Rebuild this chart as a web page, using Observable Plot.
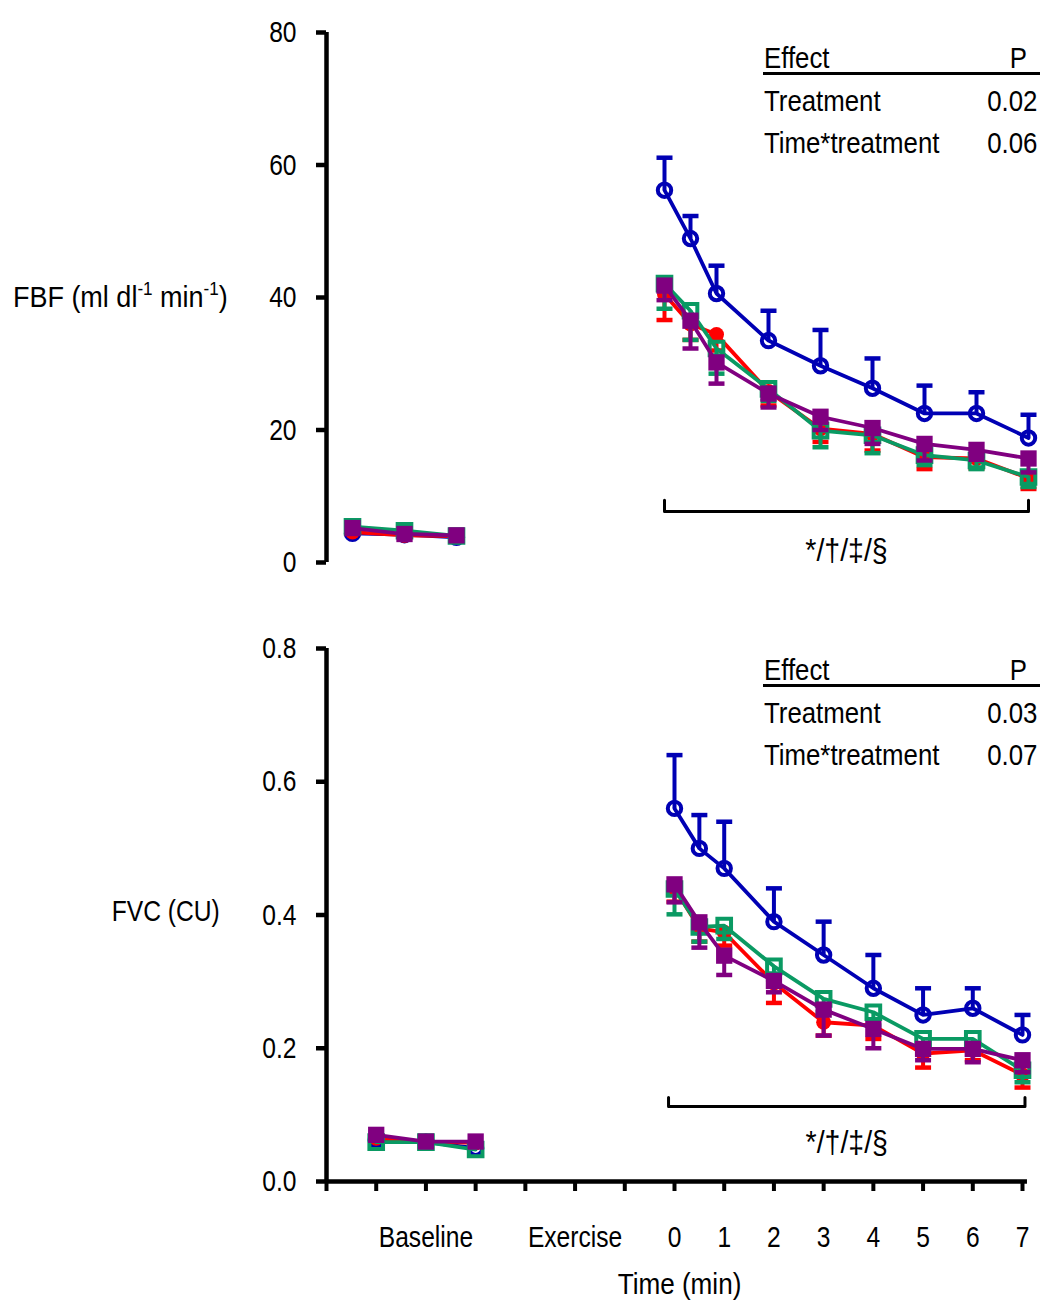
<!DOCTYPE html>
<html><head><meta charset="utf-8">
<script src="https://cdn.jsdelivr.net/npm/d3@7"></script>
<script src="https://cdn.jsdelivr.net/npm/@observablehq/plot@0.6"></script>
<style>
body{margin:0;background:#fff;}
#wrap{position:relative;width:1043px;height:1301px;font-family:"Liberation Sans",Arial,sans-serif;color:#000;overflow:hidden;}
.panel{position:absolute;left:0;}
.lab{position:absolute;font-size:30px;line-height:30px;white-space:nowrap;transform:scaleX(0.86);}
.lab.l{transform-origin:left center;}
.lab.r{transform-origin:right center;}
.lab.wide{transform:scaleX(0.9);}
.lab.narrow{transform:scaleX(0.82);}
.lab sup{font-size:19px;vertical-align:0;position:relative;top:-12px;}
.uline{position:absolute;height:2.5px;background:#000;}
</style></head><body>
<div id="wrap">
  <div id="top" class="panel" style="top:0"></div>
  <div id="bot" class="panel" style="top:600px"></div>
  <div id="labels"></div>
</div>
<script>
// ---------- categories / ticks ----------
const xTickLabels = ["", "", "Baseline", "", "", "Exercise", "", "0", "1", "2", "3", "4", "5", "6", "7"];
const baselineSlots = [1, 2, 3];
const timeMin = [0, 0.5, 1, 2, 3, 4, 5, 6, 7];
const timeSlot0 = 7;
const fbfTicks = [0, 20, 40, 60, 80];
const fvcTicks = [0, 0.2, 0.4, 0.6, 0.8];
const effectNames = ["Treatment", "Time*treatment"];
const fbfP = ["0.02", "0.06"];
const fvcP = ["0.03", "0.07"];
const bracketLabel = "*/\u2020/\u2021/\u00a7";
const xTitle = "Time (min)";

// ---------- FBF (ml dl-1 min-1) ----------
const fbfBaseBlue = [4.4, 4.2, 3.8];
const fbfBaseRed = [4.6, 4.1, 4.0];
const fbfBaseGreen = [5.4, 4.8, 4.0];
const fbfBasePurple = [5.2, 4.3, 4.1];
const fbfBlue = [56.2, 48.9, 40.6, 33.5, 29.7, 26.3, 22.5, 22.5, 18.8];
const fbfBlueSE = [4.9, 3.4, 4.2, 4.5, 5.4, 4.5, 4.2, 3.2, 3.5];
const fbfRed = [40.5, 36.0, 34.4, 25.8, 20.2, 19.4, 15.9, 15.7, 12.7];
const fbfRedSE = [3.9, 2.4, 2.4, 2.1, 2.0, 2.5, 1.8, 1.5, 1.6];
const fbfGreen = [42.1, 38.0, 32.3, 26.2, 19.9, 19.2, 16.2, 15.4, 12.9];
const fbfGreenSE = [3.8, 4.4, 3.8, 1.8, 2.5, 2.7, 1.5, 1.3, 1.5];
const fbfPurple = [41.8, 36.5, 30.2, 25.5, 22.0, 20.3, 17.9, 17.0, 15.7];
const fbfPurpleSE = [2.2, 4.2, 3.2, 2.1, 2.0, 2.4, 2.5, 1.5, 2.1];

// ---------- FVC (CU) ----------
const fvcBaseBlue = [0.062, 0.059, 0.050];
const fvcBaseRed = [0.065, 0.060, 0.058];
const fvcBaseGreen = [0.059, 0.059, 0.048];
const fvcBasePurple = [0.070, 0.060, 0.060];
const fvcBlue = [0.56, 0.50, 0.47, 0.39, 0.34, 0.29, 0.25, 0.26, 0.22];
const fvcBlueSE = [0.08, 0.05, 0.07, 0.05, 0.05, 0.05, 0.04, 0.03, 0.03];
const fvcRed = [0.44, 0.38, 0.374, 0.298, 0.239, 0.234, 0.192, 0.197, 0.160];
const fvcRedSE = [0.02, 0.02, 0.02, 0.03, 0.02, 0.02, 0.021, 0.015, 0.019];
const fvcGreen = [0.439, 0.382, 0.384, 0.323, 0.274, 0.254, 0.214, 0.214, 0.167];
const fvcGreenSE = [0.038, 0.022, 0.02, 0.02, 0.02, 0.02, 0.015, 0.015, 0.018];
const fvcPurple = [0.446, 0.389, 0.339, 0.301, 0.258, 0.229, 0.199, 0.199, 0.182];
const fvcPurpleSE = [0.027, 0.038, 0.029, 0.017, 0.039, 0.029, 0.017, 0.02, 0.018];

// brackets (time range, y of bar, y of tips, y of label)
const fbfBracket = {from: 0, to: 7, bar: 7.7, tip: 9.4, label: 1.8};
const fvcBracket = {from: -0.12, to: 7.05, bar: 0.1126, tip: 0.126, label: 0.057};

// ---------- styles ----------
const FONT = "'Liberation Sans',Arial,sans-serif";
const NARROW = 0.82;
const S = {
  blue:   {color: "#0000B4", symbol: "circle", r: 6.7, filled: false, dir: 1},
  red:    {color: "#FF0000", symbol: "circle", r: 7.5, filled: true, dir: -1},
  green:  {color: "#0A9A63", symbol: "square", r: 7.7, filled: false, dir: -1},
  purple: {color: "#800080", symbol: "square", r: 9.2, filled: true, dir: -1}
};
const hline = {draw(ctx, size) { const w = Math.sqrt(size / Math.PI); ctx.moveTo(-w, 0); ctx.lineTo(w, 0); }};

function build(base, post, se) {
  return [
    ...base.map((v, i) => ({pos: baselineSlots[i], mean: v, se: 0, phase: "base"})),
    ...post.map((v, i) => ({pos: timeSlot0 + timeMin[i], mean: v, se: se[i], phase: "post"}))
  ];
}
function seriesMarks(rows, st) {
  const err = rows.filter(d => d.se > 0);
  const tip = d => d.mean + st.dir * d.se;
  return [
    Plot.ruleX(err, {x: "pos", y1: "mean", y2: tip, stroke: st.color, strokeWidth: 4}),
    Plot.dot(err, {x: "pos", y: tip, symbol: hline, r: 8, stroke: st.color, strokeWidth: 4.5, fill: "none"}),
    Plot.line(rows, {x: "pos", y: "mean", z: "phase", stroke: st.color, strokeWidth: 3.8}),
    Plot.dot(rows, {x: "pos", y: "mean", symbol: st.symbol, r: st.r,
      fill: st.filled ? st.color : "none", stroke: st.filled ? "none" : st.color, strokeWidth: 4})
  ];
}
function bracketMarks(b) {
  const pts = [
    {x: timeSlot0 + b.from, y: b.tip}, {x: timeSlot0 + b.from, y: b.bar},
    {x: timeSlot0 + b.to, y: b.bar}, {x: timeSlot0 + b.to, y: b.tip}
  ];
  return [
    Plot.line(pts, {x: "x", y: "y", stroke: "#000", strokeWidth: 3}),
    Plot.text([bracketLabel], {x: timeSlot0 + (b.from + b.to) / 2, y: b.label, text: d => d, fontSize: 31, lineAnchor: "middle"})
  ];
}
// narrow the text horizontally (Arial Narrow look) around each text's own anchor
function condense(svg) {
  svg.querySelectorAll("text").forEach(t => {
    const txt = t.textContent;
    const k = txt === bracketLabel ? 0.92 : txt === xTitle ? 0.87 : NARROW;
    const x = parseFloat(t.getAttribute("x")) || 0;
    const tr = t.getAttribute("transform") || "";
    t.setAttribute("transform", `${tr} translate(${x},0) scale(${k},1) translate(${-x},0)`);
  });
  return svg;
}
const plotStyle = {fontFamily: FONT, fontSize: "30px", color: "#000", background: "transparent", overflow: "visible"};

const topPlot = Plot.plot({
  width: 1043, height: 600,
  marginLeft: 326, marginRight: 15, marginTop: 32, marginBottom: 38,
  x: {domain: [0.5, 14], axis: null},
  y: {domain: [0, 80], axis: null},
  style: plotStyle,
  marks: [
    Plot.axisY({ticks: fbfTicks, tickSize: 10, tickPadding: 20, strokeWidth: 4.5, fontSize: 30, label: null}),
    Plot.ruleX([0.5], {y1: 0, y2: 80, strokeWidth: 4.5}),
    ...bracketMarks(fbfBracket),
    ...seriesMarks(build(fbfBaseBlue, fbfBlue, fbfBlueSE), S.blue),
    ...seriesMarks(build(fbfBaseRed, fbfRed, fbfRedSE), S.red),
    ...seriesMarks(build(fbfBaseGreen, fbfGreen, fbfGreenSE), S.green),
    ...seriesMarks(build(fbfBasePurple, fbfPurple, fbfPurpleSE), S.purple)
  ]
});
document.getElementById("top").appendChild(condense(topPlot));

const botPlot = Plot.plot({
  width: 1043, height: 701,
  marginLeft: 326, marginRight: 21, marginTop: 48, marginBottom: 120,
  x: {domain: [0, 14], axis: null},
  y: {domain: [0, 0.8], axis: null},
  style: plotStyle,
  marks: [
    Plot.axisY({ticks: fvcTicks, tickFormat: d3.format(".1f"), tickSize: 10, tickPadding: 20, strokeWidth: 4.5, fontSize: 30, label: null}),
    Plot.axisX({ticks: xTickLabels.map((_, i) => i), tickFormat: i => xTickLabels[i], tickSize: 10, tickPadding: 34, strokeWidth: 4, fontSize: 30, label: null}),
    Plot.ruleX([0], {y1: 0, y2: 0.8, strokeWidth: 4.5}),
    Plot.ruleY([0], {x1: 0, x2: 14.1, strokeWidth: 4.5}),
    Plot.text([xTitle], {frameAnchor: "bottom", text: d => d, dy: 112, dx: 5, lineAnchor: "bottom", fontSize: 30}),
    ...bracketMarks(fvcBracket),
    ...seriesMarks(build(fvcBaseBlue, fvcBlue, fvcBlueSE), S.blue),
    ...seriesMarks(build(fvcBaseRed, fvcRed, fvcRedSE), S.red),
    ...seriesMarks(build(fvcBaseGreen, fvcGreen, fvcGreenSE), S.green),
    ...seriesMarks(build(fvcBasePurple, fvcPurple, fvcPurpleSE), S.purple)
  ]
});
document.getElementById("bot").appendChild(condense(botPlot));

// ---------- y labels and effect tables (HTML text) ----------
const L = document.getElementById("labels");
function addDiv(html, css, cls) {
  const d = document.createElement("div");
  d.className = cls; d.innerHTML = html; d.style.cssText = css; L.appendChild(d); return d;
}
addDiv("FBF (ml dl<sup>-1</sup> min<sup>-1</sup>)", "right:815px;top:282px;", "lab r wide");
addDiv("FVC (CU)", "right:823px;top:896px;", "lab r narrow");
function table(offset, pvals) {
  addDiv("Effect", `left:764px;top:${43 + offset}px;`, "lab l");
  addDiv("P", `right:${1043 - 1027}px;top:${43 + offset}px;`, "lab r");
  addDiv("", `left:763px;width:277px;top:${72 + offset}px;`, "uline");
  effectNames.forEach((n, i) => {
    addDiv(n, `left:764px;top:${86 + 42 * i + offset}px;`, "lab l");
    addDiv(pvals[i], `right:${1043 - 1037}px;top:${86 + 42 * i + offset}px;`, "lab r");
  });
}
table(0, fbfP);
table(612, fvcP);
</script>
</body></html>
